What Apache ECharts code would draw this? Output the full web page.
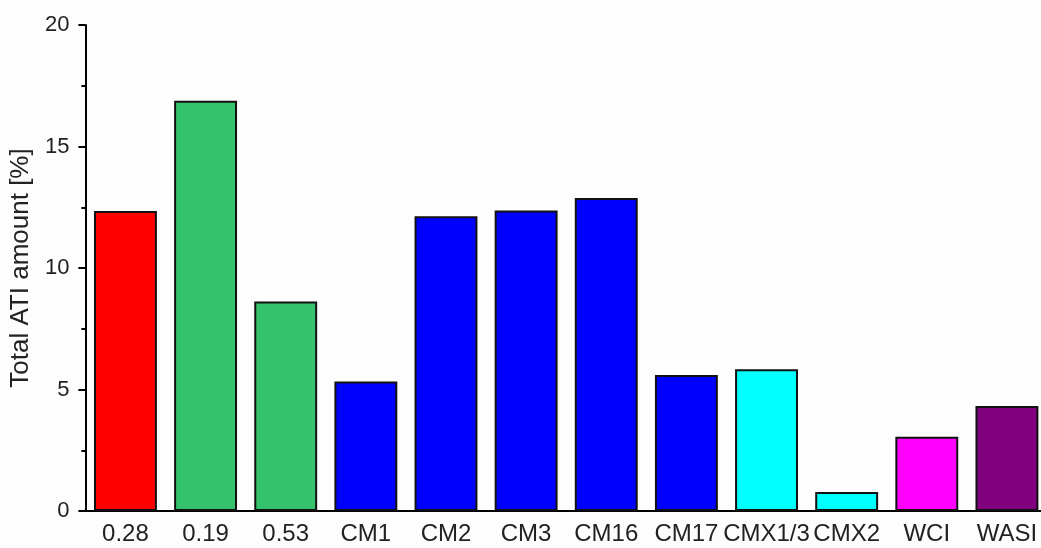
<!DOCTYPE html>
<html>
<head>
<meta charset="utf-8">
<script src="https://cdn.jsdelivr.net/npm/echarts@6/dist/echarts.min.js"></script>
<style>
html,body{margin:0;padding:0;background:#fdfdfd;overflow:hidden;}
#chart{width:1050px;height:548px;}
</style>
</head>
<body>
<div id="chart"></div>
<script>
const categories = ['0.28','0.19','0.53','CM1','CM2','CM3','CM16','CM17','CMX1/3','CMX2','WCI','WASI'];
const values = [12.35, 16.88, 8.62, 5.33, 12.13, 12.37, 12.88, 5.6, 5.83, 0.78, 3.06, 4.32];
const barColors = ['#ff0000','#35c26c','#35c26c','#0000ff','#0000ff','#0000ff','#0000ff','#0000ff','#00ffff','#00ffff','#ff00ff','#800080'];
const yTicks = [0, 5, 10, 15, 20];

const chart = echarts.init(document.getElementById('chart'));
const font = 'Liberation Sans, Arial, sans-serif';
chart.setOption({
  backgroundColor: '#fdfdfd',
  animation: false,
  grid: {left: 82, right: 3, top: 25, bottom: 37, containLabel: false},
  xAxis: [{
    type: 'category',
    data: categories,
    position: 'bottom',
    axisLine: {lineStyle: {color: '#000', width: 2}},
    axisTick: {alignWithLabel: true, length: 7, lineStyle: {color: '#000', width: 2}},
    axisLabel: {color: '#222', fontSize: 24, fontFamily: font, margin: 11, interval: 0},
    splitLine: {show: false}
  }, {
    type: 'category',
    data: categories,
    position: 'bottom',
    axisLine: {show: false},
    axisTick: {alignWithLabel: false, length: 4, lineStyle: {color: '#000', width: 2}},
    axisLabel: {show: false},
    splitLine: {show: false}
  }],
  yAxis: {
    type: 'value',
    min: yTicks[0],
    max: yTicks[yTicks.length - 1],
    interval: 5,
    name: 'Total ATI amount [%]',
    nameLocation: 'middle',
    nameGap: 44,
    nameTextStyle: {color: '#222', fontSize: 26, fontFamily: font},
    axisLine: {show: true, lineStyle: {color: '#000', width: 2}},
    axisTick: {show: true, length: 7, lineStyle: {color: '#000', width: 2}},
    minorTick: {show: true, splitNumber: 2, length: 4, lineStyle: {color: '#000', width: 2}},
    axisLabel: {color: '#222', fontSize: 22, fontFamily: font, margin: 16},
    splitLine: {show: false}
  },
  series: [{
    type: 'bar',
    xAxisIndex: 0,
    barCategoryGap: '21.5%',
    data: values.map((v, i) => ({value: v, itemStyle: {color: barColors[i]}})),
    itemStyle: {borderColor: '#111', borderWidth: 2}
  }]
});
</script>
</body>
</html>
